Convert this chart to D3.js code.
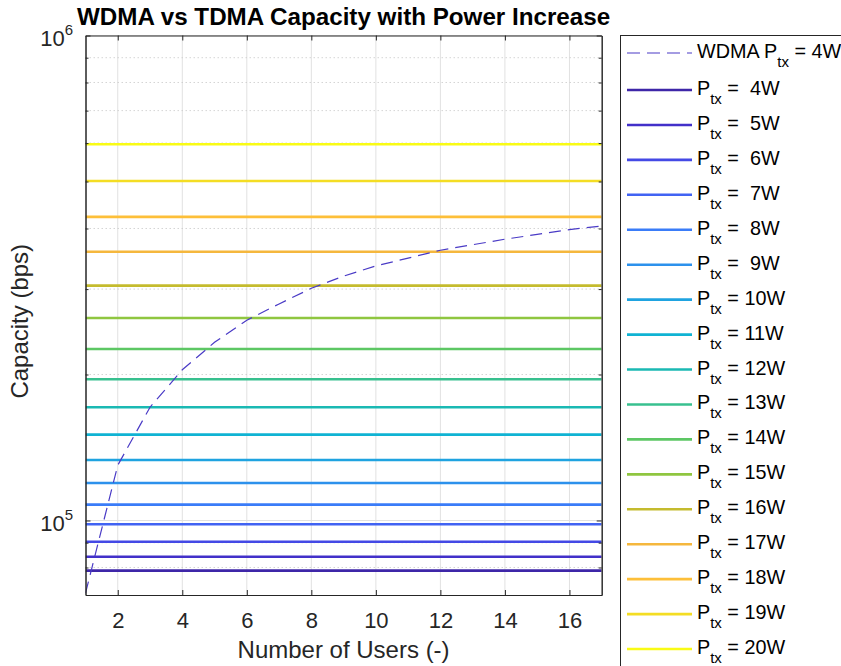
<!DOCTYPE html>
<html>
<head>
<meta charset="utf-8">
<script src="https://cdn.jsdelivr.net/npm/d3@7"></script>
<style>
  body { margin: 0; background: #fff; }
  text { font-family: "Liberation Sans", Arial, Helvetica, sans-serif; white-space: pre; }
</style>
</head>
<body>
<svg id="chart" width="841" height="666"></svg>
<script>
// Number of users on the x axis
const users = [1, 2, 3, 4, 5, 6, 7, 8, 9, 10, 11, 12, 13, 14, 15, 16, 17];

// WDMA capacity (bps) at P_tx = 4 W, one value per user count
const wdmaCapacity = [70800, 130000, 171200, 204500, 233000, 258800, 279600, 301100,
                      319000, 335000, 347500, 360800, 370300, 380200, 388900, 398000, 404800];

// TDMA transmit powers (W) and the resulting capacity (bps), flat in the user count
const powers = [4, 5, 6, 7, 8, 9, 10, 11, 12, 13, 14, 15, 16, 17, 18, 19, 20];
const tdmaCapacity = [78800, 84200, 90400, 98200, 107800, 119500, 133300, 150300, 171200,
                      195500, 225700, 261500, 304900, 358300, 422600, 501200, 596700];

// Axis ticks
const xTicks = [2, 4, 6, 8, 10, 12, 14, 16];
const yMajorTicks = [1e5, 1e6];
const yMinorTicks = [8e4, 9e4, 2e5, 3e5, 4e5, 5e5, 6e5, 7e5, 8e5, 9e5];

// parula-like colour per power level
const lineColors = ["#3e26a8", "#4230c9", "#4449e5", "#4163f3", "#3a7cf8", "#2c91ec",
                    "#1fa3e0", "#10b3d3", "#1ab9b3", "#38c08f", "#5dc764", "#8fc640",
                    "#c4bb2e", "#f5b73d", "#fdbf39", "#f4dd24", "#f9fb15"];
const wdmaColor = "#4a3bc6";

const svg = d3.select("#chart");
const plot = { left: 85.5, right: 601.7, top: 35.5, bottom: 595 };

const x = d3.scaleLinear().domain([1, 17]).range([plot.left, plot.right]);
const y = d3.scaleLog().domain([70200, 1e6]).range([plot.bottom, plot.top]);

svg.append("defs").append("clipPath").attr("id", "plotClip")
  .append("rect")
  .attr("x", plot.left).attr("y", plot.top)
  .attr("width", plot.right - plot.left).attr("height", plot.bottom - plot.top);

// Grid
const grid = svg.append("g");
grid.selectAll("line.xg").data(xTicks).join("line")
  .attr("x1", d => x(d)).attr("x2", d => x(d))
  .attr("y1", plot.top).attr("y2", plot.bottom)
  .attr("stroke", "#e1e1e1").attr("stroke-width", 1);
grid.selectAll("line.ymin").data(yMinorTicks).join("line")
  .attr("x1", plot.left).attr("x2", plot.right)
  .attr("y1", d => y(d)).attr("y2", d => y(d))
  .attr("stroke", "#c9c9c9").attr("stroke-width", 0.8)
  .attr("stroke-dasharray", "1.5,2.5");
grid.selectAll("line.ymaj").data(yMajorTicks).join("line")
  .attr("x1", plot.left).attr("x2", plot.right)
  .attr("y1", d => y(d)).attr("y2", d => y(d))
  .attr("stroke", "#e1e1e1").attr("stroke-width", 1);

// Series
const line = d3.line().x(d => x(d.n)).y(d => y(d.v));
const series = svg.append("g").attr("clip-path", "url(#plotClip)");

powers.forEach((p, i) => {
  const pts = users.map(n => ({ n, v: tdmaCapacity[i] }));
  series.append("path").datum(pts)
    .attr("d", line)
    .attr("fill", "none")
    .attr("stroke", lineColors[i])
    .attr("stroke-width", 2.6);
});

series.append("path")
  .datum(users.map((n, i) => ({ n, v: wdmaCapacity[i] })))
  .attr("d", line)
  .attr("fill", "none")
  .attr("stroke", wdmaColor)
  .attr("stroke-width", 1.2)
  .attr("stroke-dasharray", "12,7");

// Axes
const axisColor = "#262626";
function styleAxis(g) {
  g.select(".domain").attr("stroke", axisColor);
  g.selectAll(".tick line").attr("stroke", axisColor);
}

svg.append("g").attr("transform", `translate(0,${plot.bottom})`)
  .call(d3.axisBottom(x).tickValues(xTicks).tickSize(-5).tickSizeOuter(0).tickPadding(17))
  .call(styleAxis)
  .call(g => g.selectAll("text").attr("fill", axisColor)
    .style("font-size", "22px"));

svg.append("g").attr("transform", `translate(0,${plot.top})`)
  .call(d3.axisTop(x).tickValues(xTicks).tickSize(-5).tickSizeOuter(0).tickFormat(""))
  .call(styleAxis);

svg.append("g").attr("transform", `translate(${plot.left},0)`)
  .call(d3.axisLeft(y).tickValues(yMajorTicks).tickSize(-5).tickSizeOuter(0).tickFormat(""))
  .call(styleAxis);
svg.append("g").attr("transform", `translate(${plot.left},0)`)
  .call(d3.axisLeft(y).tickValues(yMinorTicks).tickSize(-3).tickSizeOuter(0).tickFormat(""))
  .call(styleAxis);
svg.append("g").attr("transform", `translate(${plot.right},0)`)
  .call(d3.axisRight(y).tickValues(yMajorTicks).tickSize(-5).tickSizeOuter(0).tickFormat(""))
  .call(styleAxis);
svg.append("g").attr("transform", `translate(${plot.right},0)`)
  .call(d3.axisRight(y).tickValues(yMinorTicks).tickSize(-3).tickSizeOuter(0).tickFormat(""))
  .call(styleAxis);

// Power-of-ten labels on the y axis
const yLab = svg.append("g");
yMajorTicks.forEach(v => {
  const t = yLab.append("text")
    .attr("x", 73).attr("y", y(v) + 10.5)
    .attr("text-anchor", "end")
    .attr("fill", axisColor)
    .style("font-size", "22px");
  t.append("tspan").text("10");
  t.append("tspan").text(String(Math.round(Math.log10(v))))
    .attr("dy", -11).style("font-size", "15px");
});

// Titles
svg.append("text")
  .attr("x", (plot.left + plot.right) / 2).attr("y", 25)
  .attr("text-anchor", "middle")
  .attr("fill", "#000")
  .style("font-size", "24.2px").style("font-weight", "bold")
  .text("WDMA vs TDMA Capacity with Power Increase");

svg.append("text")
  .attr("x", (plot.left + plot.right) / 2).attr("y", 658)
  .attr("text-anchor", "middle")
  .attr("fill", axisColor)
  .style("font-size", "24px")
  .text("Number of Users (-)");

svg.append("text")
  .attr("transform", `translate(28,${(plot.top + plot.bottom) / 2 + 6}) rotate(-90)`)
  .attr("text-anchor", "middle")
  .attr("fill", axisColor)
  .style("font-size", "24px")
  .text("Capacity (bps)");

// Legend
const legend = svg.append("g");
legend.append("rect")
  .attr("x", 620.5).attr("y", 35.5)
  .attr("width", 240).attr("height", 650)
  .attr("fill", "#fff").attr("stroke", axisColor).attr("stroke-width", 1);

function legendText(yBase, prefix, suffix) {
  const t = legend.append("text")
    .attr("x", 697).attr("y", yBase)
    .attr("fill", "#000")
    .style("font-size", "19.8px");
  t.append("tspan").text(prefix + "P");
  t.append("tspan").text("tx").attr("dy", 9).style("font-size", "15px");
  t.append("tspan").text(suffix).attr("dy", -9);
}

// WDMA entry
legend.append("line")
  .attr("x1", 627).attr("x2", 692).attr("y1", 53).attr("y2", 53)
  .attr("stroke", wdmaColor).attr("stroke-width", 1.2)
  .attr("stroke-dasharray", "13,7");
legendText(58, "WDMA ", " = " + powers[0] + "W");

const rowStep = 34.94;
powers.forEach((p, i) => {
  const ly = 90 + i * rowStep;
  legend.append("line")
    .attr("x1", 627).attr("x2", 692).attr("y1", ly).attr("y2", ly)
    .attr("stroke", lineColors[i]).attr("stroke-width", 2.6);
  legendText(ly + 5, "", " = " + (p < 10 ? " " : "") + p + "W");
});
</script>
</body>
</html>
